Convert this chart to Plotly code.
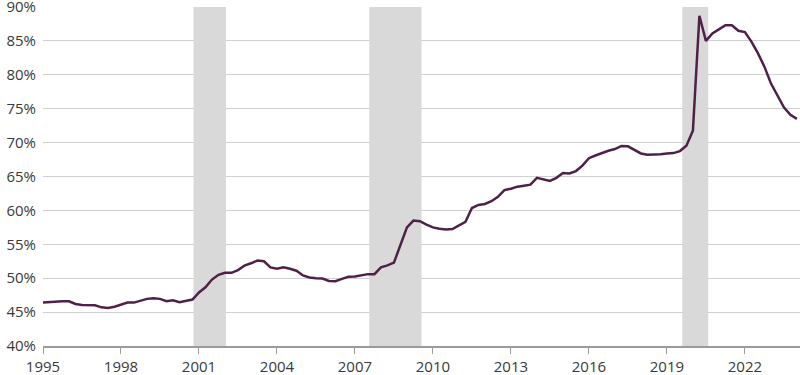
import plotly.graph_objects as go

# Quarterly values, 1995 Q1 .. 2024 Q1 (percent)
start_year = 1995
values = [
    46.4, 46.5, 46.6, 46.6,   # 1995
    46.6, 46.2, 46.05, 46.0,  # 1996
    46.0, 45.7, 45.6, 45.8,   # 1997
    46.1, 46.4, 46.4, 46.7,   # 1998
    46.95, 47.05, 46.95, 46.6,  # 1999
    46.75, 46.45, 46.6, 46.85,  # 2000
    47.9, 48.65, 49.8, 50.5,  # 2001
    50.8, 50.8, 51.2, 51.85,  # 2002
    52.2, 52.6, 52.5, 51.6,   # 2003
    51.4, 51.6, 51.4, 51.1,   # 2004
    50.4, 50.1, 50.0, 49.95,  # 2005
    49.6, 49.55, 49.9, 50.2,  # 2006
    50.25, 50.4, 50.6, 50.6,  # 2007
    51.6, 51.9, 52.3, 54.9,   # 2008
    57.5, 58.5, 58.4, 57.9,   # 2009
    57.5, 57.3, 57.2, 57.25,  # 2010
    57.8, 58.3, 60.35, 60.8,  # 2011
    60.95, 61.35, 62.0, 63.0,  # 2012
    63.2, 63.5, 63.65, 63.8,  # 2013
    64.8, 64.6, 64.35, 64.8,  # 2014
    65.5, 65.45, 65.8, 66.6,  # 2015
    67.7, 68.1, 68.5, 68.8,   # 2016
    69.05, 69.5, 69.45, 68.9,  # 2017
    68.4, 68.2, 68.2, 68.3,   # 2018
    68.4, 68.45, 68.75, 69.55,  # 2019
    71.75, 88.7, 85.0, 86.1,  # 2020
    86.7, 87.3, 87.3, 86.5,   # 2021
    86.3, 84.9, 83.2, 81.2,   # 2022
    78.75, 76.9, 75.2, 74.1,  # 2023
    73.5,                     # 2024
]
years = [start_year + i / 4 for i in range(len(values))]

recession_starts = [2000.79, 2007.55, 2019.59]
recession_ends = [2002.04, 2009.56, 2020.59]

tick_years = [1995, 1998, 2001, 2004, 2007, 2010, 2013, 2016, 2019, 2022]
y_ticks = [40, 45, 50, 55, 60, 65, 70, 75, 80, 85, 90]
y_min, y_max = 40, 90

fig = go.Figure()

# recession shading as filled traces (drawn above gridlines, below the line)
for s, e in zip(recession_starts, recession_ends):
    fig.add_trace(go.Scatter(
        x=[s, e, e, s, s], y=[y_min, y_min, y_max, y_max, y_min],
        mode="lines", fill="toself", fillcolor="#d9d9d9",
        line=dict(width=0, color="#d9d9d9"),
        hoverinfo="skip", showlegend=False,
    ))

fig.add_trace(go.Scatter(
    x=years, y=values, mode="lines",
    line=dict(color="#4f2148", width=2.5),
    hoverinfo="skip", showlegend=False,
))

font = dict(family="Open Sans, sans-serif", size=15, color="#3a3a3a")

fig.update_layout(
    width=800, height=375,
    margin=dict(l=43, r=0, t=7, b=29),
    paper_bgcolor="white", plot_bgcolor="white",
    font=font,
    xaxis=dict(
        range=[1995, 2024.12],
        tickvals=tick_years, ticktext=[str(t) for t in tick_years],
        showgrid=False, zeroline=False,
        showline=True, linecolor="#9a9a9a", linewidth=1.5,
        ticks="outside", ticklen=6, tickcolor="#9a9a9a", tickwidth=1,
        tickfont=font, automargin=False, ticklabeloverflow="allow",
    ),
    yaxis=dict(
        range=[y_min, y_max],
        tickvals=y_ticks, ticktext=[f"{v}%" for v in y_ticks],
        showgrid=True, gridcolor="#d0d0d0", gridwidth=1,
        zeroline=False, showline=False, ticks="",
        ticklabelstandoff=6,
        tickfont=font, automargin=False, ticklabeloverflow="allow",
    ),
)

fig.write_html(
    "out.html",
    config={"displayModeBar": False, "staticPlot": True},
    post_script="document.body.style.margin='0';document.body.style.overflow='hidden';",
)
